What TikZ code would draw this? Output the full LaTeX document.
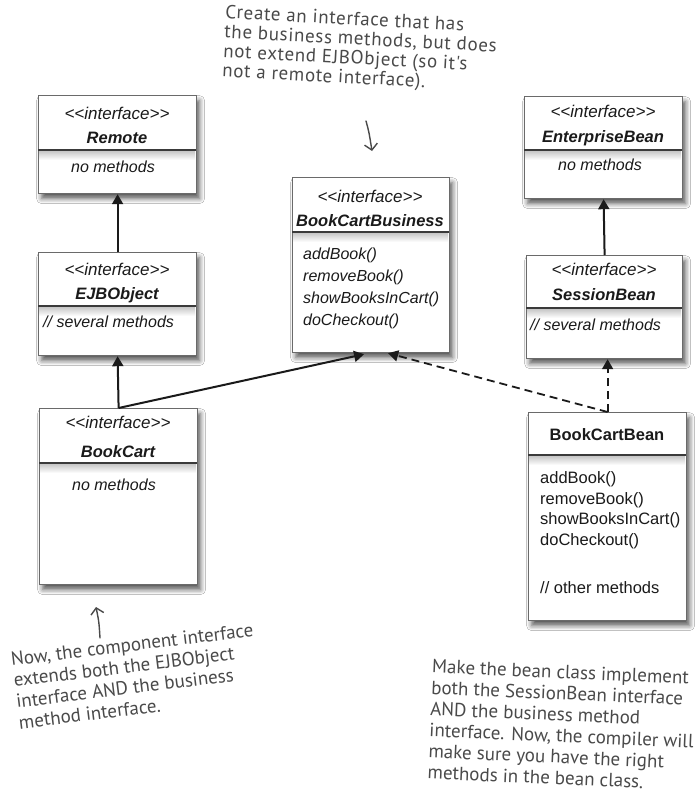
\documentclass[tikz,border=0pt]{standalone}
\usepackage{fontspec}
\setmainfont{Liberation Sans}
\newfontfamily\handfont{PT Sans}
\usetikzlibrary{shadows.blur,arrows.meta,calc}

\definecolor{boxline}{HTML}{6A6A6A}
\definecolor{divline}{HTML}{3A3A3A}
\definecolor{ink}{HTML}{1A1A1A}
\definecolor{hand}{HTML}{4A4A4A}

\newcommand{\stereotxt}{<\kern0pt<interface>\kern0pt>}

\tikzset{
  umlbox/.style={draw=boxline, line width=1.2pt, fill=white, rectangle,
    anchor=north west, inner sep=0pt,
    blur shadow={shadow xshift=3pt, shadow yshift=-5pt, shadow blur radius=5pt, shadow opacity=65}},
  divider/.style={draw=divline, line width=1.2pt},
  band/.style={top color=black!22, bottom color=white},
  stereo/.style={anchor=base, inner sep=0pt, text=ink, font=\fontsize{17}{19}\selectfont\itshape},
  iname/.style={anchor=base, inner sep=0pt, text=ink, font=\fontsize{16.5}{19}\selectfont\bfseries\itshape},
  cname/.style={anchor=base, inner sep=0pt, text=ink, font=\fontsize{16.5}{19}\selectfont\bfseries},
  methit/.style={anchor=base west, inner sep=0pt, text=ink, font=\fontsize{16}{18}\selectfont\itshape},
  methup/.style={anchor=base west, inner sep=0pt, text=ink, font=\fontsize{16.5}{18}\selectfont},
  nometh/.style={anchor=base, inner sep=0pt, text=ink, font=\fontsize{16}{18}\selectfont\itshape},
  inherit/.style={draw=ink, line width=2pt, -{Triangle[width=11pt,length=10pt]}},
  realize/.style={draw=ink, line width=1.8pt, dash pattern=on 8pt off 5pt, -{Triangle[width=11pt,length=10pt]}},
  note/.style={inner sep=0pt, align=left, text=hand, font=\handfont\fontsize{19}{21.2}\selectfont},
  topnote/.style={inner sep=0pt, align=left, text=hand, font=\handfont\fontsize{19}{19.5}\selectfont\addfontfeature{LetterSpace=3.5}},
  handarrow/.style={draw=hand, line width=1.4pt, line cap=round, line join=round, -{Straight Barb[length=6pt,width=13pt]}}
}

\begin{document}
\begin{tikzpicture}[x=1pt,y=-1pt]
\useasboundingbox[fill=white] (0,0) rectangle (699,800);

% ---------- boxes ----------
\node[umlbox, minimum width=158pt, minimum height=98pt]  (remote)     at (38,95)  {};
\node[umlbox, minimum width=158pt, minimum height=103pt] (ejb)        at (38,252) {};
\node[umlbox, minimum width=158pt, minimum height=176pt] (bookcart)   at (39,408) {};
\node[umlbox, minimum width=157pt, minimum height=175pt] (business)   at (292,177) {};
\node[umlbox, minimum width=158pt, minimum height=102pt] (enterprise) at (524,96) {};
\node[umlbox, minimum width=156pt, minimum height=103pt] (session)    at (526,255) {};
\node[umlbox, minimum width=158pt, minimum height=208pt] (bean)       at (528,412) {};

% ---------- dividers with soft band ----------
\shade[band] (39,151) rectangle (195,160);
\draw[divider] (38,150) -- (196,150);
\shade[band] (39,307) rectangle (195,316);
\draw[divider] (38,306) -- (196,306);
\shade[band] (40,464) rectangle (196,473);
\draw[divider] (39,463) -- (197,463);
\shade[band] (293,233) rectangle (448,242);
\draw[divider] (292,232) -- (449,232);
\shade[band] (525,151) rectangle (681,160);
\draw[divider] (524,150) -- (682,150);
\shade[band] (527,309) rectangle (681,318);
\draw[divider] (526,308) -- (682,308);
\shade[band] (529,456) rectangle (685,465);
\draw[divider] (528,455) -- (686,455);

% ---------- texts ----------
\node[stereo] (remote-s) at (117,119) {\stereotxt};
\node[iname]  (remote-n) at (117,143) {Remote};
\node[nometh] (remote-m) at (113,172) {no methods};

\node[stereo] (ejb-s) at (117,275) {\stereotxt};
\node[iname]  (ejb-n) at (117,299) {EJBObject};
\node[methit] (ejb-m) at (43,327) {// several methods};

\node[stereo] (bc-s) at (118,428) {\stereotxt};
\node[iname]  (bc-n) at (118,457) {BookCart};
\node[nometh] (bc-m) at (114,490) {no methods};

\node[stereo] (bus-s) at (370,202) {\stereotxt};
\node[iname]  (bus-n) at (370,226) {BookCartBusiness};
\foreach \t/\y [count=\i] in {addBook()/259, removeBook()/281, showBooksInCart()/303, doCheckout()/325}
  \node[methit] (bus-m\i) at (303,\y) {\t};

\node[stereo] (ent-s) at (603,117) {\stereotxt};
\node[iname]  (ent-n) at (603,142) {EnterpriseBean};
\node[nometh] (ent-m) at (600,170) {no methods};

\node[stereo] (ses-s) at (604,275) {\stereotxt};
\node[iname]  (ses-n) at (604,300) {SessionBean};
\node[methit] (ses-m) at (530,330) {// several methods};

\node[cname]  (bean-n) at (607,440) {BookCartBean};
\foreach \t/\y [count=\i] in {addBook()/483, removeBook()/504, showBooksInCart()/524, doCheckout()/545}
  \node[methup] (bean-m\i) at (540,\y) {\t};
\node[methup] (bean-other) at (540,593) {// other methods};

% ---------- connectors ----------
\draw[inherit] (ejb.north) -- (remote.south);
\draw[inherit] (bookcart.north) -- (ejb.south);
\draw[inherit] (bookcart.north) -- ($(business.south)+(-7,1)$);
\draw[inherit] (session.north) -- (enterprise.south);
\draw[realize] (bean.north) -- (bean.north |- session.south);
\draw[realize] (bean.north) -- ($(business.south)+(17,0)$);

% ---------- annotations ----------
\node[topnote, rotate=-3] (note-top) at (360,50)
  {Create an interface that has\\the business methods, but does\\not extend EJBObject (so it's\\not a remote interface).};
\coordinate (ta1) at (366,121);
\coordinate (ta2) at (372,151);
\draw[handarrow] (ta1) .. controls (369,132) .. (ta2);

\node[note, rotate=7] (note-left) at (136,676)
  {Now, the component interface\\extends both the EJBObject\\interface AND the business\\method interface.};
\coordinate (la1) at (100,638);
\coordinate (la2) at (96,607);
\draw[handarrow] (la1) .. controls (99,622) .. (la2);

\node[note, rotate=-2.5] (note-right) at (562,725)
  {Make the bean class implement\\both the SessionBean interface\\AND the business method\\interface. Now, the compiler will\\make sure you have the right\\methods in the bean class.};
\end{tikzpicture}
\end{document}
